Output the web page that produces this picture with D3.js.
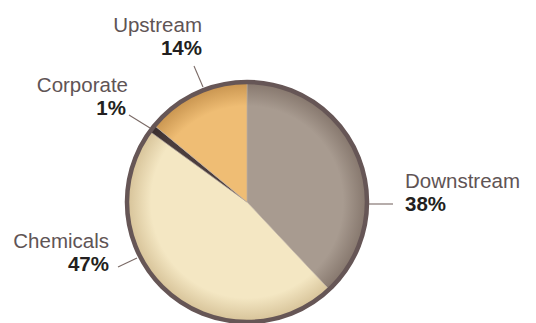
<!DOCTYPE html>
<html>
<head>
<meta charset="utf-8">
<script src="https://cdn.jsdelivr.net/npm/d3@7"></script>
<style>
  html, body { margin: 0; padding: 0; background: #fff; }
  svg { display: block; font-family: "Liberation Sans", Arial, sans-serif; }
</style>
</head>
<body>
<svg id="chart" width="536" height="323"></svg>
<script>
// segment data, clockwise from 12 o'clock
const segments = ["Downstream", "Chemicals", "Corporate", "Upstream"];
const shares = [38, 47, 1, 14];
const baseColors = ["#a89b90", "#f4e7c3", "#4b3d3d", "#efbd74"];
const rimColors = ["#85766c", "#d6c298", "#3a2e2e", "#c8944f"];

// label anchor, leader line and text placement per segment
const labelPos = {
  Downstream: {x: 405, y: 188, anchor: "start", line: [[369, 204], [393, 204]]},
  Chemicals: {x: 109, y: 248, anchor: "end", line: [[118, 267], [137, 258]]},
  Corporate: {x: 128, y: 92, anchor: "end", pctX: 126, line: [[129, 115], [150, 128]]},
  Upstream: {x: 202, y: 32, anchor: "end", line: [[194, 66], [203, 87]]}
};

const cx = 247, cy = 202, radius = 120;

const svg = d3.select("#chart");
const defs = svg.append("defs");

// gradients live in the pie group's user space (centred at 0,0)
segments.forEach(function(name, i) {
  const g = defs.append("radialGradient")
    .attr("id", "grad" + i)
    .attr("gradientUnits", "userSpaceOnUse")
    .attr("cx", 0).attr("cy", 0).attr("r", radius);
  g.append("stop").attr("offset", "0%").attr("stop-color", baseColors[i]);
  g.append("stop").attr("offset", "80%").attr("stop-color", baseColors[i]);
  g.append("stop").attr("offset", "100%").attr("stop-color", rimColors[i]);
});

const pie = d3.pie().sort(null).value(function(d) { return d; });
const arc = d3.arc().innerRadius(0).outerRadius(radius);

const arcs = pie(shares);

const pieG = svg.append("g").attr("transform", "translate(" + cx + "," + cy + ")");

pieG.selectAll("path.slice")
  .data(arcs)
  .enter()
  .append("path")
  .attr("class", "slice")
  .attr("d", arc)
  .attr("fill", function(d, i) { return "url(#grad" + i + ")"; })
  .attr("stroke", "#b9aba0")
  .attr("stroke-width", 0.6);

pieG.append("circle")
  .attr("r", radius)
  .attr("fill", "none")
  .attr("stroke", "#665656")
  .attr("stroke-width", 4.5);

// leader lines
segments.forEach(function(name) {
  const p = labelPos[name];
  svg.append("line")
    .attr("x1", p.line[0][0]).attr("y1", p.line[0][1])
    .attr("x2", p.line[1][0]).attr("y2", p.line[1][1])
    .attr("stroke", "#7a6a66")
    .attr("stroke-width", 1.1);
});

// labels
segments.forEach(function(name, i) {
  const p = labelPos[name];
  svg.append("text")
    .attr("x", p.x).attr("y", p.y)
    .attr("text-anchor", p.anchor)
    .attr("font-size", 20.5)
    .attr("fill", "#5f5455")
    .text(name);
  svg.append("text")
    .attr("x", p.pctX || p.x).attr("y", p.y + 23)
    .attr("text-anchor", p.anchor)
    .attr("font-size", 20.5)
    .attr("font-weight", "bold")
    .attr("fill", "#231f20")
    .text(shares[i] + "%");
});
</script>
</body>
</html>
